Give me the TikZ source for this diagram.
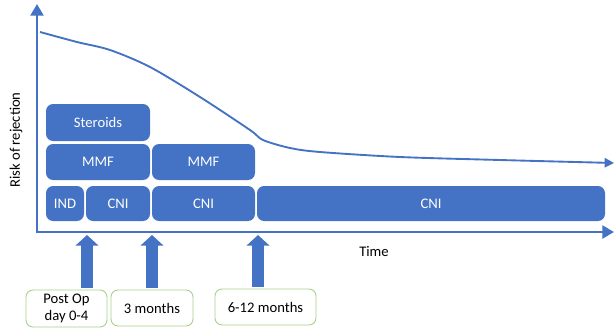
\documentclass[tikz,border=0pt]{standalone}
\usepackage{fontspec}
\setmainfont{Carlito}
\usetikzlibrary{arrows.meta}
\definecolor{officeblue}{HTML}{4472C4}
\definecolor{officegreen}{HTML}{A9D18E}
\newcommand{\pxl}{0.03cm}
\tikzset{
  txt/.style={font=\fontsize{12.5}{14}\selectfont},
  drug/.style={rectangle, rounded corners=6pt, fill=officeblue, text=white, inner sep=0pt, txt},
  stage/.style={rectangle, rounded corners=6pt, draw=officegreen, line width=0.8pt, fill=white, inner sep=0pt, align=center, txt},
  axis/.style={officeblue, line width=2.4pt, -{Triangle[length=10pt,width=11pt]}},
  blockarrow/.style={officeblue, line width=10pt, -{Triangle[length=9pt,width=19pt]}}
}
\begin{document}
\begin{tikzpicture}[x=0.03cm,y=-0.03cm]
    \useasboundingbox (0,0) rectangle (614,330);

    % axes
    \coordinate (origin) at (37,232);
    \coordinate (ytop) at (37,4);
    \coordinate (xend) at (614,232);
    \draw[axis] ([yshift=1.2pt]origin) -- (ytop);
    \draw[axis] ([xshift=-1.2pt]origin) -- (xend);
    \node[txt] (xlabel) at (374,252) {Time};
    \node[txt, rotate=90] (ylabel) at (16,140) {Risk of rejection};

    % risk curve
    \draw[officeblue, line width=1.6pt, -{Triangle[length=8pt,width=8pt]}]
        plot[smooth, tension=0.5] coordinates {(40,32) (77,42) (110,50) (150,67) (200,97) (250,130) (263,140) (290,148) (320,152) (400,157) (500,160) (614,163)};

    % drug bands
    \node[drug, minimum width=104*\pxl, minimum height=37*\pxl] (ster) at (98,122.5) {Steroids};
    \node[drug, minimum width=104*\pxl, minimum height=36*\pxl] (mmfa) at (98,162) {MMF};
    \node[drug, minimum width=103*\pxl, minimum height=36*\pxl] (mmfb) at (203.5,162) {MMF};
    \node[drug, minimum width=38*\pxl, minimum height=35*\pxl] (ind) at (65,203.5) {IND};
    \node[drug, minimum width=64*\pxl, minimum height=35*\pxl] (cnia) at (118,203.5) {CNI};
    \node[drug, minimum width=103*\pxl, minimum height=35*\pxl] (cnib) at (203.5,203.5) {CNI};
    \node[drug, minimum width=348*\pxl, minimum height=35*\pxl] (cnic) at (431,203.5) {CNI};

    % time points
    \node[stage, minimum width=81*\pxl, minimum height=37*\pxl] (postop) at (66.5,308.5) {Post Op\\day 0-4};
    \node[stage, minimum width=82*\pxl, minimum height=36*\pxl] (three) at (152,308) {3 months};
    \node[stage, minimum width=101*\pxl, minimum height=36*\pxl] (twelve) at (265.5,307) {6-12 months};

    \coordinate (tpost) at (87,235);
    \coordinate (tthree) at (152,235);
    \coordinate (ttwelve) at (258,235);
    \draw[blockarrow] (postop.north -| tpost) ++(0,-2) -- (tpost);
    \draw[blockarrow] (three.north -| tthree) ++(0,-2) -- (tthree);
    \draw[blockarrow] (twelve.north -| ttwelve) ++(0,-2) -- (ttwelve);
\end{tikzpicture}
\end{document}
